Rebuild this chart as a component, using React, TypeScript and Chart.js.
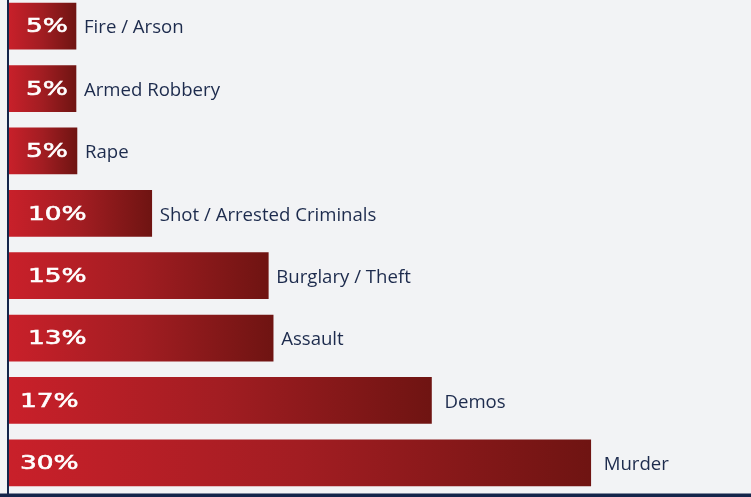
import React, { useEffect, useRef } from "react";
import { Chart, registerables } from "chart.js";

Chart.register(...registerables);

const categories = [
  "Fire / Arson",
  "Armed Robbery",
  "Rape",
  "Shot / Arrested Criminals",
  "Burglary / Theft",
  "Assault",
  "Demos",
  "Murder",
];
const shareLabels = ["5%", "5%", "5%", "10%", "15%", "13%", "17%", "30%"];
// bar lengths as drawn in the picture (scaled so the 30% bar = 30)
const barLengths = [3.5, 3.5, 3.55, 7.4, 13.4, 13.65, 21.8, 30];
const xMax = 38.25;

const BG = "#f2f3f5";
const NAVY = "#14254a";
const LABEL = "#1d2b4d";

export default function App() {
  const ref = useRef<HTMLCanvasElement | null>(null);

  useEffect(() => {
    const canvas = ref.current;
    if (!canvas) return;

    const decor = {
      id: "decor",
      beforeDraw(chart: any) {
        const { ctx, width, height } = chart;
        ctx.save();
        ctx.fillStyle = BG;
        ctx.fillRect(0, 0, width, height);
        ctx.restore();
      },
      afterDatasetsDraw(chart: any) {
        const { ctx, chartArea } = chart;
        const meta = chart.getDatasetMeta(0);
        ctx.save();
        // axis lines
        ctx.fillStyle = NAVY;
        ctx.fillRect(7, 0, 2, chartArea.bottom + 4);
        ctx.fillRect(0, chartArea.bottom - 0.5, chart.width, 4);
        meta.data.forEach((bar: any, i: number) => {
          const y = bar.y;
          ctx.textBaseline = "middle";
          ctx.fillStyle = "#ffffff";
          ctx.font = "20px 'DejaVu Sans'";
          ctx.textAlign = "left";
          ctx.save();
          ctx.translate(i < 3 ? 26 : i < 6 ? 28 : 20, y + 1);
          ctx.scale(1.32, 1);
          ctx.lineWidth = 0.6;
          ctx.strokeStyle = "#ffffff";
          ctx.fillText(shareLabels[i], 0, 0);
          ctx.strokeText(shareLabels[i], 0, 0);
          ctx.restore();
          ctx.fillStyle = LABEL;
          ctx.font = "18.6px 'Open Sans'";
          ctx.fillText(categories[i], bar.x + (i >= 6 ? 13 : 8), y + 2);
        });
        ctx.restore();
      },
    };

    const chart = new Chart(canvas, {
      type: "bar",
      data: {
        labels: categories,
        datasets: [
          {
            data: barLengths,
            borderWidth: 0,
            barThickness: 46,
            backgroundColor: (c: any) => {
              const ch = c.chart;
              const area = ch.chartArea;
              if (!area || c.dataIndex === undefined) return "#a01c20";
              const xs = ch.scales.x;
              const x0 = xs.getPixelForValue(0);
              const x1 = xs.getPixelForValue(barLengths[c.dataIndex]);
              const g = ch.ctx.createLinearGradient(x0, 0, x1, 0);
              g.addColorStop(0, "#c9202a");
              g.addColorStop(0.5, "#a21d22");
              g.addColorStop(1, "#6f1412");
              return g;
            },
          },
        ],
      },
      options: {
        indexAxis: "y",
        responsive: false,
        animation: false,
        layout: { padding: { left: 8, right: 0, top: 0, bottom: 4 } },
        plugins: {
          legend: { display: false },
          tooltip: { enabled: false },
        },
        scales: {
          x: { display: false, min: 0, max: xMax },
          y: { display: false, offset: true },
        },
      },
      plugins: [decor],
    });
    return () => chart.destroy();
  }, []);

  return (
    <div
      style={{
        position: "fixed",
        left: 0,
        top: 0,
        width: 751,
        height: 497,
        overflow: "hidden",
        background: BG,
      }}
    >
      <canvas
        ref={ref}
        width={751}
        height={503}
        style={{ position: "absolute", left: 0, top: -5, width: 751, height: 503 }}
      />
    </div>
  );
}
